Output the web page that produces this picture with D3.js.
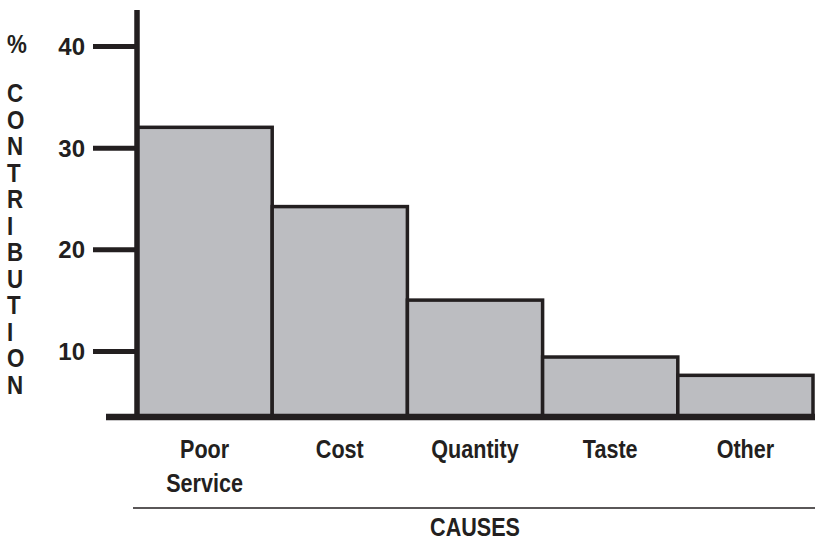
<!DOCTYPE html>
<html>
<head>
<meta charset="utf-8">
<script src="https://cdn.jsdelivr.net/npm/d3@7/dist/d3.min.js"></script>
<style>
  html, body { margin: 0; padding: 0; background: #ffffff; }
  svg { display: block; }
  .narrow { font-family: "Liberation Sans", Arial, Helvetica, sans-serif; font-weight: bold; }
  .wide { font-family: "Liberation Sans", Arial, Helvetica, sans-serif; font-weight: bold; }
</style>
</head>
<body>
<script>
// ---- data ----
const categories = ["Poor Service", "Cost", "Quantity", "Taste", "Other"];
const values = [32, 24.2, 15, 9.4, 7.6];
const yTickValues = [10, 20, 30, 40];
const yTitleSymbol = "%";
const yTitleWord = "CONTRIBUTION";
const xTitle = "CAUSES";

// ---- layout ----
const W = 815, H = 541;
const ink = "#231f20";
const barFill = "#bcbdc1";
const squeeze = "scale(0.83,1)";
const squeezeY = "scale(0.86,1)";

const svg = d3.select("body").append("svg")
  .attr("width", W).attr("height", H);

const x = d3.scaleBand().domain(categories).range([137, 813]).padding(0);
const y = d3.scaleLinear().domain([3.5, 40]).range([417, 46]);

// bars
svg.append("g").selectAll("rect")
  .data(categories)
  .join("rect")
  .attr("x", d => x(d))
  .attr("y", (d, i) => y(values[i]))
  .attr("width", x.bandwidth())
  .attr("height", (d, i) => y(3.5) - y(values[i]))
  .attr("fill", barFill)
  .attr("stroke", ink)
  .attr("stroke-width", 3.5);

// y axis
const yAxis = svg.append("g")
  .attr("transform", "translate(137,0)")
  .call(d3.axisLeft(y).tickValues(yTickValues).tickSize(44).tickPadding(8).tickFormat(d3.format("d")));
yAxis.select(".domain").remove();
yAxis.selectAll(".tick line").attr("stroke", ink).attr("stroke-width", 5);
yAxis.selectAll(".tick text")
  .attr("class", "wide")
  .attr("fill", ink)
  .attr("font-size", 24)
  .attr("dy", "0.36em");

// vertical axis line
svg.append("line")
  .attr("x1", 137).attr("x2", 137)
  .attr("y1", 10).attr("y2", 420)
  .attr("stroke", ink).attr("stroke-width", 5.5);

// baseline
svg.append("line")
  .attr("x1", 106).attr("x2", 815)
  .attr("y1", y(3.5)).attr("y2", y(3.5))
  .attr("stroke", ink).attr("stroke-width", 6.5);

// x axis labels
const xAxis = svg.append("g")
  .attr("transform", `translate(0,${y(3.5)})`)
  .call(d3.axisBottom(x).tickSize(0));
xAxis.select(".domain").remove();
xAxis.selectAll(".tick text").each(function(d) {
  const t = d3.select(this);
  t.text(null)
    .attr("class", "narrow")
    .attr("fill", ink)
    .attr("font-size", 26)
    .attr("y", 41)
    .attr("dy", null)
    .attr("transform", squeeze);
  d.split(" ").forEach((word, i) => {
    t.append("tspan").attr("x", 0).attr("dy", i === 0 ? 0 : 34).text(word);
  });
});

// rule under labels
svg.append("line")
  .attr("x1", 133).attr("x2", 815)
  .attr("y1", 508).attr("y2", 508)
  .attr("stroke", ink).attr("stroke-width", 1.5);

// x title
svg.append("g")
  .attr("transform", `translate(${(x.range()[0] + x.range()[1]) / 2},536)`)
  .append("text")
  .attr("class", "narrow")
  .attr("transform", squeeze)
  .attr("text-anchor", "middle")
  .attr("font-size", 26)
  .attr("fill", ink)
  .text(xTitle);

// y title (stacked letters)
const yTitle = svg.append("g").attr("fill", ink).attr("font-size", 26);
yTitle.append("text")
  .attr("class", "narrow")
  .attr("transform", `translate(7,53) ${squeezeY}`)
  .text(yTitleSymbol);
yTitle.selectAll("text.letter")
  .data(yTitleWord.split(""))
  .join("text")
  .attr("class", "letter narrow")
  .attr("transform", (d, i) => `translate(7,${102 + i * 26.5}) ${squeezeY}`)
  .text(d => d);
</script>
</body>
</html>
